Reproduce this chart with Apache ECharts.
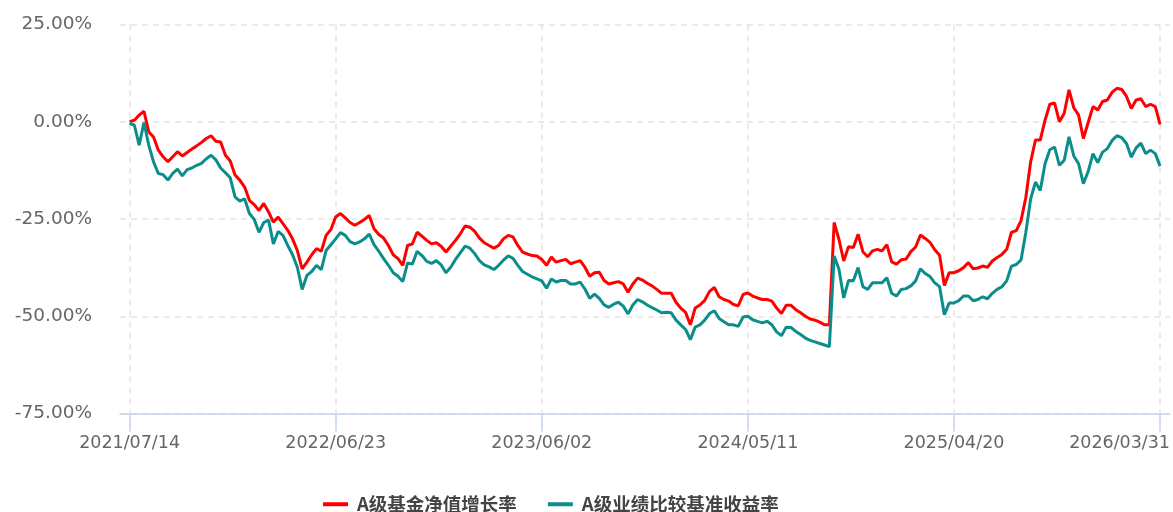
<!DOCTYPE html>
<html>
<head>
<meta charset="utf-8">
<title>A级基金净值增长率</title>
<script src="https://cdn.jsdelivr.net/npm/echarts/dist/echarts.min.js"></script>
<style>
  html, body { margin: 0; padding: 0; background: #fff; }
  #chart { width: 1173px; height: 512px; }
</style>
</head>
<body>
<div id="chart"></div>
<script>
// labelled dates on the x axis (43 points between two of them, ~8 days apart)
const tickLabels = ["2021/07/14", "2022/06/23", "2023/06/02", "2024/05/11", "2025/04/20", "2026/03/31"];

// A级基金净值增长率 (%)
const navGrowth = [
  0, 0.4, 1.7, 2.7, -2.6, -3.9, -7.3, -9.0, -10.3, -9.0,
  -7.7, -8.8, -7.9, -7.0, -6.2, -5.3, -4.3, -3.6, -5.0, -5.2,
  -8.6, -10.1, -13.7, -15.0, -16.8, -20.2, -21.3, -22.8, -21.0, -23.2,
  -25.8, -24.5, -26.2, -27.9, -30.1, -33.1, -37.8, -36.1, -34.2, -32.6,
  -33.3, -29.2, -27.7, -24.5, -23.6, -24.7, -25.9, -26.6, -25.9, -25.1,
  -24.1, -27.5, -29.0, -29.9, -31.8, -34.2, -35.2, -36.9, -31.8, -31.4,
  -28.4, -29.4, -30.5, -31.4, -31.1, -32.0, -33.5, -32.0, -30.5, -28.8,
  -26.8, -27.1, -28.2, -29.9, -31.1, -31.8, -32.5, -31.8, -30.1, -29.2,
  -29.6, -31.8, -33.5, -34.0, -34.4, -34.5, -35.4, -36.9, -34.8, -36.1,
  -35.7, -35.4, -36.5, -36.1, -35.7, -37.4, -39.7, -38.8, -38.7, -40.8,
  -41.7, -41.4, -41.1, -41.7, -43.8, -41.7, -40.2, -40.7, -41.5, -42.2,
  -43.1, -44.1, -44.1, -44.1, -46.4, -47.9, -49.0, -52.2, -47.9, -47.1,
  -45.9, -43.6, -42.6, -45.0, -45.7, -46.1, -47.0, -47.3, -44.4, -44.0,
  -44.8, -45.3, -45.7, -45.7, -46.1, -47.9, -49.3, -47.2, -47.2, -48.3,
  -49.1, -50.0, -50.7, -51.0, -51.5, -52.2, -52.2, -25.9, -30.2, -35.8,
  -32.1, -32.3, -28.9, -33.4, -34.7, -33.2, -32.8, -33.2, -31.6, -36.0,
  -36.6, -35.5, -35.3, -33.4, -32.2, -29.1, -30.0, -31.0, -32.9, -34.3,
  -42.1, -38.8, -38.8, -38.3, -37.5, -36.2, -37.8, -37.6, -37.1, -37.4,
  -35.8, -34.9, -34.1, -32.8, -28.4, -28.0, -25.4, -19.4, -10.3, -4.7,
  -4.7, 0.4, 4.5, 4.8, 0.0, 2.2, 8.2, 3.6, 1.7, -4.3,
  -0.2, 3.9, 3.0, 5.2, 5.6, 7.6, 8.6, 8.3, 6.5, 3.4,
  5.6, 5.9, 3.9, 4.5, 3.9, -0.7
];

// A级业绩比较基准收益率 (%)
const benchmark = [
  -0.4, -0.9, -6.0, -0.2, -6.0, -10.3, -13.3, -13.6, -15.0, -13.3,
  -12.2, -13.9, -12.3, -11.9, -11.2, -10.7, -9.5, -8.6, -9.8, -11.9,
  -13.1, -14.4, -19.3, -20.4, -19.8, -23.6, -25.1, -28.4, -25.9, -25.3,
  -31.4, -28.2, -29.2, -31.8, -34.2, -37.4, -43.1, -39.5, -38.5, -36.9,
  -38.0, -33.1, -31.6, -30.1, -28.5, -29.2, -30.8, -31.4, -30.9, -30.1,
  -28.9, -31.6, -33.3, -35.2, -36.9, -38.8, -39.7, -41.1, -36.3, -36.6,
  -33.3, -34.4, -35.9, -36.4, -35.7, -36.8, -38.8, -37.4, -35.4, -33.7,
  -32.0, -32.5, -33.9, -35.7, -36.8, -37.3, -38.0, -36.9, -35.6, -34.5,
  -35.1, -36.9, -38.5, -39.2, -39.9, -40.4, -40.9, -42.8, -40.4, -41.2,
  -40.8, -40.8, -41.7, -41.7, -41.2, -43.0, -45.4, -44.3, -45.4, -47.1,
  -47.7, -46.9, -46.4, -47.4, -49.4, -47.1, -45.7, -46.3, -47.1, -47.8,
  -48.4, -49.1, -49.0, -49.1, -51.0, -52.2, -53.4, -56.0, -52.8, -52.2,
  -51.0, -49.3, -48.6, -50.6, -51.4, -52.2, -52.2, -52.6, -50.2, -50.0,
  -50.9, -51.3, -51.7, -51.3, -52.2, -54.0, -55.0, -52.8, -52.9, -53.9,
  -54.7, -55.6, -56.2, -56.6, -57.0, -57.4, -57.8, -34.5, -37.9, -45.3,
  -40.8, -40.9, -37.5, -42.4, -43.1, -41.4, -41.4, -41.4, -40.1, -44.1,
  -44.8, -43.1, -42.9, -42.2, -40.9, -37.8, -39.0, -39.8, -41.4, -42.4,
  -49.6, -46.6, -46.6, -46.0, -44.8, -44.8, -46.0, -45.7, -45.0, -45.5,
  -44.1, -43.1, -42.4, -40.9, -37.1, -36.7, -35.5, -28.4, -19.8, -15.5,
  -17.7, -10.8, -7.2, -6.5, -11.2, -9.9, -3.9, -8.8, -10.8, -15.9,
  -12.8, -8.2, -10.5, -7.8, -6.9, -4.8, -3.6, -4.1, -5.6, -9.1,
  -6.7, -5.5, -8.2, -7.3, -8.2, -11.4
];

const seriesNames = ["A级基金净值增长率", "A级业绩比较基准收益率"];

const DAY = 86400000;
const STEPS = 43;

function toMs(s) {
  return Date.parse(s.replace(/\//g, "-"));
}
function pad2(n) {
  return n < 10 ? "0" + n : "" + n;
}
function fmt(ms) {
  const d = new Date(ms);
  return d.getUTCFullYear() + "/" + pad2(d.getUTCMonth() + 1) + "/" + pad2(d.getUTCDate());
}

// dates between the labelled ones
const dates = [];
for (let s = 0; s < tickLabels.length - 1; s++) {
  const a = toMs(tickLabels[s]);
  const b = toMs(tickLabels[s + 1]);
  const span = (b - a) / DAY;
  for (let k = 0; k < STEPS; k++) {
    dates.push(fmt(a + Math.round(span * k / STEPS) * DAY));
  }
}
dates.push(tickLabels[tickLabels.length - 1]);

// two empty slots on each side so the axis runs a bit past the data
const categories = ["p1", "p2"].concat(dates, ["p3", "p4"]);
const withPad = (arr) => [null, null].concat(arr, [null, null]);

const isTick = (index, value) => tickLabels.indexOf(value) >= 0;
const lastLabel = tickLabels[tickLabels.length - 1];

const chart = echarts.init(document.getElementById("chart"));
chart.setOption({
  animation: false,
  grid: {
    left: 120,
    right: 3,
    top: 24.5,
    bottom: 98.5,
  },
  legend: {
    left: 318,
    top: 490,
    icon: "rect",
    itemWidth: 25,
    itemHeight: 4,
    itemGap: 31,
    textStyle: {
      fontFamily: "Noto Sans CJK SC",
      fontSize: 18.5,
      fontWeight: "bold",
      color: "#444",
      padding: [0, 0, 0, 4],
    },
    data: seriesNames,
  },
  xAxis: {
    type: "category",
    boundaryGap: false,
    data: categories,
    axisLine: {
      onZero: false,
      lineStyle: { color: "#c6d3ef", width: 1.5 },
    },
    axisTick: {
      interval: isTick,
      length: 18,
      lineStyle: { color: "#c6d3ef", width: 1.5 },
    },
    axisLabel: {
      interval: isTick,
      margin: 21,
      fontFamily: "DejaVu Sans",
      fontSize: 17.5,
      color: "#666",
      formatter: (v) => (v === lastLabel ? "{end|" + v + "}" : v),
      rich: {
        end: {
          fontFamily: "DejaVu Sans",
          fontSize: 17.5,
          color: "#666",
          padding: [0, 81, 0, 0],
        },
      },
    },
    splitLine: {
      show: true,
      interval: isTick,
      lineStyle: { color: "#e3e3e3", type: [6, 5], width: 1.5 },
    },
  },
  yAxis: {
    type: "value",
    min: -75,
    max: 25,
    interval: 25,
    axisLine: { show: false },
    axisTick: { show: false },
    axisLabel: {
      margin: 28,
      fontFamily: "DejaVu Sans",
      fontSize: 18.5,
      color: "#666",
      formatter: (v) => v.toFixed(2) + "%",
    },
    splitLine: {
      lineStyle: { color: "#e3e3e3", type: [6, 5], width: 1.5 },
    },
  },
  series: [
    {
      name: seriesNames[0],
      type: "line",
      data: withPad(navGrowth),
      showSymbol: false,
      color: "#ff0000",
      lineStyle: { width: 3 },
    },
    {
      name: seriesNames[1],
      type: "line",
      data: withPad(benchmark),
      showSymbol: false,
      color: "#0b8e8b",
      lineStyle: { width: 3 },
    },
  ],
});
</script>
</body>
</html>
